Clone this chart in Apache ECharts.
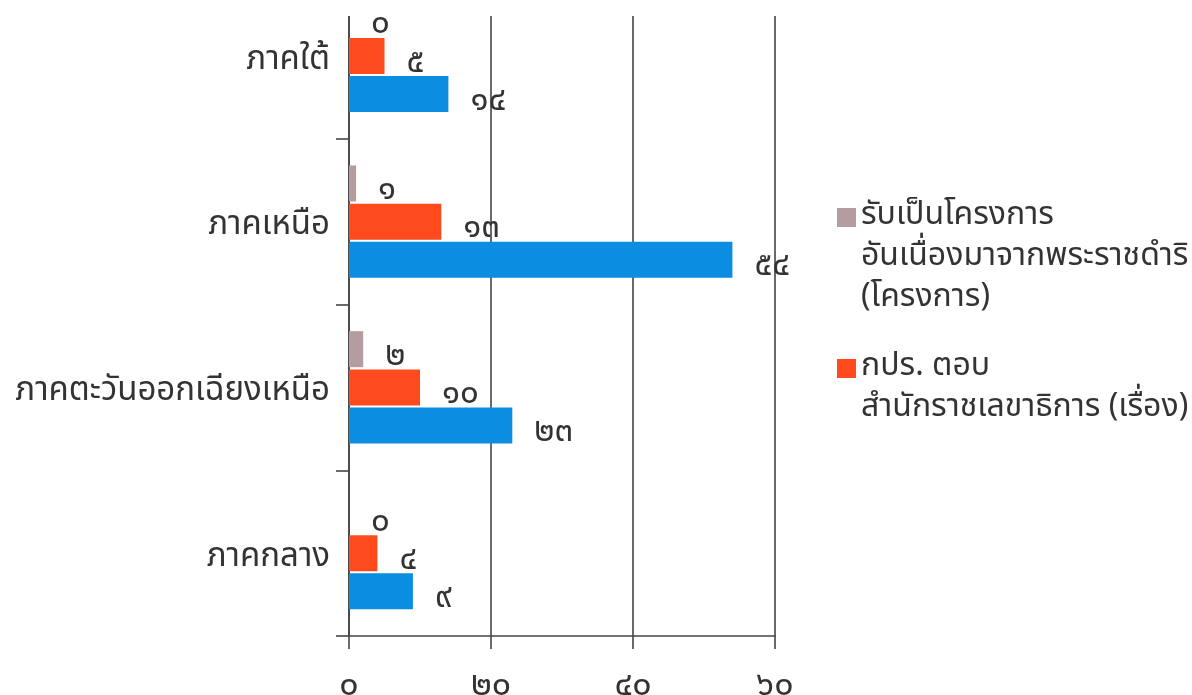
<!DOCTYPE html>
<html>
<head>
<meta charset="utf-8">
<script src="https://cdn.jsdelivr.net/npm/echarts@6/dist/echarts.min.js"></script>
<style>
html,body{margin:0;padding:0;background:#fff;}
#chart{width:1192px;height:695px;}
</style>
</head>
<body>
<div id="chart"></div>
<script>
// Categories, top to bottom
var categories = ['ภาคใต้', 'ภาคเหนือ', 'ภาคตะวันออกเฉียงเหนือ', 'ภาคกลาง'];
// Series values (same order as categories)
var greyName = 'รับเป็นโครงการ\nอันเนื่องมาจากพระราชดำริ\n(โครงการ)';
var greyValues = [0, 1, 2, 0];
var orangeName = 'กปร. ตอบ\nสำนักราชเลขาธิการ (เรื่อง)';
var orangeValues = [5, 13, 10, 4];
var blueName = 'ชุดที่ ๓';
var blueValues = [14, 54, 23, 9];
// X tick labels
var xTickValues = [0, 20, 40, 60];
var xTickLabels = ['๐', '๒๐', '๔๐', '๖๐'];

var thaiDigits = ['๐','๑','๒','๓','๔','๕','๖','๗','๘','๙'];
function toThai(n) {
  return String(n).replace(/[0-9]/g, function (d) { return thaiDigits[+d]; });
}

var FONT = "'Noto Sans Thai', 'Noto Sans', 'DejaVu Sans', sans-serif";
var TEXT = '#333333';
var LINE = '#454545';

var chart = echarts.init(document.getElementById('chart'), null, {renderer: 'canvas'});

function labelCfg() {
  return {
    show: true,
    position: 'right',
    distance: 22,
    offset: [0, 9],
    fontSize: 33,
    fontFamily: FONT,
    color: TEXT,
    formatter: function (p) { return toThai(p.value); }
  };
}

var option = {
  backgroundColor: '#ffffff',
  animation: false,
  grid: {
    left: 349,
    right: 417,
    top: -27,
    bottom: 59,
    containLabel: false,
    outerBoundsMode: 'none'
  },
  xAxis: {
    type: 'value',
    min: 0,
    max: 60,
    interval: 20,
    axisLine: {show: true, lineStyle: {color: LINE, width: 1.6}},
    axisTick: {show: true, length: 13, lineStyle: {color: LINE, width: 1.6}},
    splitLine: {show: true, lineStyle: {color: LINE, width: 1.6}},
    axisLabel: {
      margin: 35,
      fontSize: 34,
      fontFamily: FONT,
      color: TEXT,
      formatter: function (v) {
        var i = xTickValues.indexOf(v);
        return i >= 0 ? xTickLabels[i] : '';
      }
    }
  },
  yAxis: {
    type: 'category',
    inverse: true,
    data: categories,
    axisLine: {show: true, lineStyle: {color: LINE, width: 1.6}},
    axisTick: {show: true, length: 13, alignWithLabel: false, lineStyle: {color: LINE, width: 1.6}},
    axisLabel: {
      margin: 19,
      fontSize: 33,
      fontFamily: FONT,
      color: TEXT,
      verticalAlign: 'top',
      lineHeight: 12
    }
  },
  legend: [
    {
      orient: 'vertical',
      left: 837,
      top: 217 - 102,
      padding: 0,
      itemWidth: 19,
      itemHeight: 19,
      icon: 'rect',
      data: [greyName],
      formatter: function (n) { return '\n\n' + n; },
      textStyle: {fontSize: 32, fontFamily: FONT, color: TEXT, lineHeight: 41}
    },
    {
      orient: 'vertical',
      left: 837,
      top: 368 - 61,
      padding: 0,
      itemWidth: 19,
      itemHeight: 19,
      icon: 'rect',
      data: [orangeName],
      formatter: function (n) { return '\n' + n; },
      textStyle: {fontSize: 32, fontFamily: FONT, color: TEXT, lineHeight: 41}
    }
  ],
  graphic: [
    {
      type: 'rect',
      z: 1,
      silent: true,
      shape: {x: 300, y: 0, width: 500, height: 16},
      style: {fill: '#ffffff'}
    }
  ],
  series: [
    {
      name: greyName,
      type: 'bar',
      data: greyValues,
      barWidth: 36,
      barGap: '6%',
      itemStyle: {color: '#b59ca0'},
      label: labelCfg()
    },
    {
      name: orangeName,
      type: 'bar',
      data: orangeValues,
      barWidth: 36,
      barGap: '6%',
      itemStyle: {color: '#ff4a1e'},
      label: labelCfg()
    },
    {
      name: blueName,
      type: 'bar',
      data: blueValues,
      barWidth: 36,
      barGap: '6%',
      itemStyle: {color: '#0b8de2'},
      label: labelCfg()
    }
  ]
};

chart.setOption(option);
</script>
</body>
</html>
